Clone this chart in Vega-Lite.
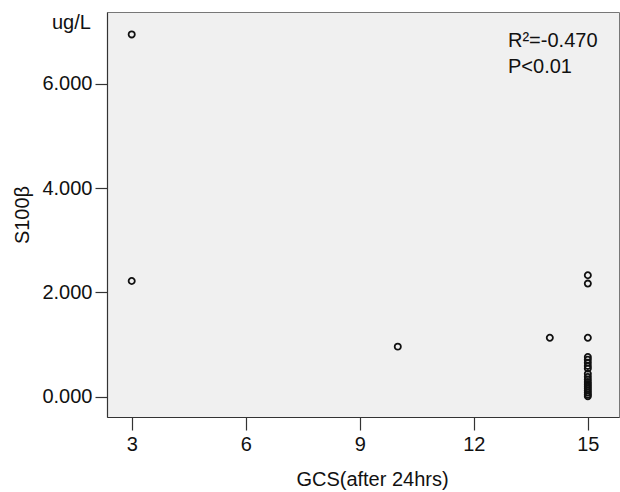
{
  "$schema": "https://vega.github.io/schema/vega-lite/v6.json",
  "autosize": {"type": "none"},
  "width": 512,
  "height": 405,
  "padding": {"left": 107, "top": 12, "right": 1, "bottom": 75},
  "background": "white",
  "config": {
    "font": "Liberation Sans",
    "view": {"fill": "#f0f0f0", "stroke": "#777", "strokeWidth": 1},
    "axis": {
      "labelFont": "Liberation Sans", "titleFont": "Liberation Sans",
      "labelFontSize": 20, "titleFontSize": 20, "labelColor": "#111", "titleColor": "#111",
      "titleFontWeight": "normal", "grid": false,
      "domainColor": "#333", "tickColor": "#333", "tickWidth": 1.2, "domainWidth": 1.2
    }
  },
  "datasets": {
    "pts": [
      {"gcs": 3, "s100": 6.95},
      {"gcs": 3, "s100": 2.22},
      {"gcs": 10, "s100": 0.96},
      {"gcs": 14, "s100": 1.13},
      {"gcs": 15, "s100": 2.33},
      {"gcs": 15, "s100": 2.17},
      {"gcs": 15, "s100": 1.13},
      {"gcs": 15, "s100": 0.76},
      {"gcs": 15, "s100": 0.71},
      {"gcs": 15, "s100": 0.65},
      {"gcs": 15, "s100": 0.59},
      {"gcs": 15, "s100": 0.54},
      {"gcs": 15, "s100": 0.44},
      {"gcs": 15, "s100": 0.38},
      {"gcs": 15, "s100": 0.33},
      {"gcs": 15, "s100": 0.28},
      {"gcs": 15, "s100": 0.24},
      {"gcs": 15, "s100": 0.2},
      {"gcs": 15, "s100": 0.16},
      {"gcs": 15, "s100": 0.12},
      {"gcs": 15, "s100": 0.08},
      {"gcs": 15, "s100": 0.04},
      {"gcs": 15, "s100": 0.01}
    ],
    "notes": [
      {"gcs": 12.9, "s100": 6.71, "label": "R²=-0.470"},
      {"gcs": 12.9, "s100": 6.21, "label": "P<0.01"},
      {"gcs": 0.9, "s100": 7.05, "label": "ug/L"}
    ]
  },
  "layer": [
    {
      "data": {"name": "pts"},
      "mark": {"type": "point", "shape": "circle", "filled": false, "size": 38, "strokeWidth": 1.8, "color": "#111", "opacity": 1},
      "encoding": {
        "x": {
          "field": "gcs", "type": "quantitative",
          "scale": {"domain": [2.35, 15.82], "nice": false, "zero": false},
          "axis": {"values": [3, 6, 9, 12, 15], "tickSize": 13, "labelPadding": 4, "title": "GCS(after 24hrs)", "titlePadding": 15, "titleX": 265, "titleFontSize": 20}
        },
        "y": {
          "field": "s100", "type": "quantitative",
          "scale": {"domain": [-0.39, 7.38], "nice": false, "zero": false},
          "axis": {"values": [0, 2, 4, 6], "format": ".3f", "tickSize": 12, "labelPadding": 3, "title": "S100β", "titlePadding": 9}
        }
      }
    },
    {
      "data": {"name": "notes"},
      "mark": {"type": "text", "align": "left", "baseline": "alphabetic", "fontSize": 20, "font": "Liberation Sans", "color": "#111", "clip": false},
      "encoding": {
        "x": {"field": "gcs", "type": "quantitative"},
        "y": {"field": "s100", "type": "quantitative"},
        "text": {"field": "label"}
      }
    }
  ]
}
